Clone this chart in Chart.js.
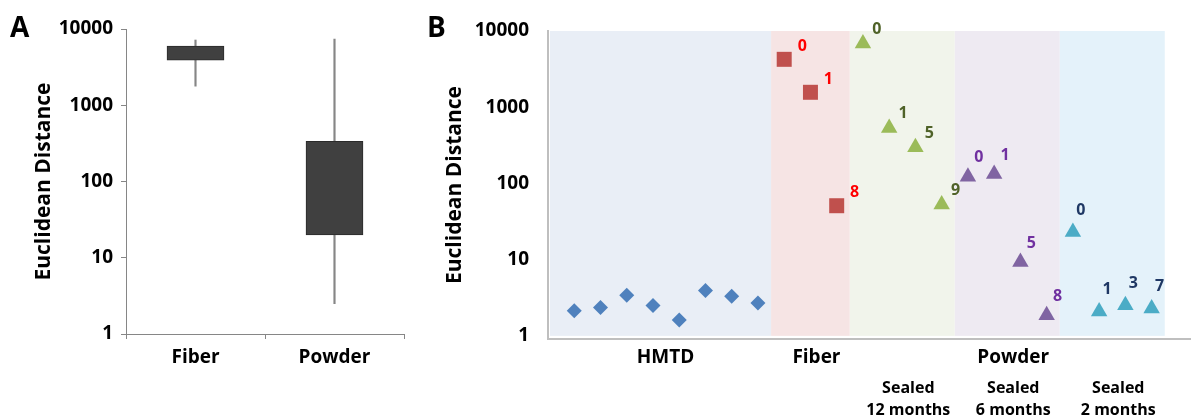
<!DOCTYPE html>
<html lang="en">
<head>
  <meta charset="UTF-8" />
  <title>Euclidean Distance</title>
  <script src="https://cdn.jsdelivr.net/npm/chart.js"></script>
  <style>
    * { margin: 0; padding: 0; box-sizing: border-box; }
    body { width: 1191px; height: 418px; background: #fff; position: relative; overflow: hidden;
           font-family: 'Open Sans', sans-serif; }
    canvas { position: absolute; top: 0; }
    #boxChart { left: 0; }
    #dotChart { left: 410px; }
    .tag { position: absolute; top: 12px; font-size: 28px; font-weight: bold; line-height: 1; color: #000; }
  </style>
</head>
<body>
  <canvas id="boxChart" width="410" height="418"></canvas>
  <canvas id="dotChart" width="781" height="418"></canvas>
  <div class="tag" style="left: 10px;">A</div>
  <div class="tag" style="left: 427px;">B</div>

  <script>
    // shared
    const yTicks = [1, 10, 100, 1000, 10000];
    const yTitle = 'Euclidean Distance';

    // panel A: box plot
    const boxCategories = ['Fiber', 'Powder'];
    const boxLow = [3910, 20];
    const boxHigh = [5970, 336];
    const whiskerLow = [1780, 2.5];
    const whiskerHigh = [7170, 7400];

    // panel B: scatter, x = sample slot
    const hmtdX = [1, 2, 3, 4, 5, 6, 7, 8];
    const hmtdY = [2.13, 2.35, 3.42, 2.5, 1.62, 3.93, 3.32, 2.71];
    const fiberX = [9, 10, 11];
    const fiberY = [4250, 1570, 51];
    const fiberLabels = ['0', '1', '8'];
    const sealed12X = [12, 13, 14, 15];
    const sealed12Y = [6840, 535, 298, 53];
    const sealed12Labels = ['0', '1', '5', '9'];
    const sealed6X = [16, 17, 18, 19];
    const sealed6Y = [122, 133, 9.3, 1.87];
    const sealed6Labels = ['0', '1', '5', '8'];
    const sealed2X = [20, 21, 22, 23];
    const sealed2Y = [23.1, 2.09, 2.53, 2.29];
    const sealed2Labels = ['0', '1', '3', '7'];

    const bandEdges = [0, 8.5, 11.5, 15.5, 19.5, 23.5];
    const groupNames = ['HMTD', 'Fiber', 'Powder'];
    const groupBands = [[0, 1], [1, 2], [2, 5]];
    const subNames = [['Sealed', '12 months'], ['Sealed', '6 months'], ['Sealed', '2 months']];
    const subBands = [[2, 3], [3, 4], [4, 5]];

    const bandColors = ['#E9EEF6', '#F6E4E4', '#F1F4EB', '#EEEAF2', '#E4F2FA'];

    Chart.defaults.font.family = "'Open Sans', sans-serif";
    Chart.defaults.font.weight = 'bold';
    Chart.defaults.color = '#000';

    const logAxis = (extra) => Object.assign({
      type: 'logarithmic',
      max: 10000,
      afterBuildTicks: s => { s.ticks = yTicks.map(v => ({ value: v })); },
      ticks: { font: { size: 19, weight: 'bold' }, color: '#000', callback: v => String(v) },
      title: { display: true, text: yTitle, font: { size: 21, weight: 'bold' }, color: '#000', padding: 0 }
    }, extra);

    // ---------- panel A ----------
    new Chart(document.getElementById('boxChart'), {
      type: 'bar',
      data: {
        labels: boxCategories,
        datasets: [
          {
            data: boxCategories.map((c, i) => [boxLow[i], boxHigh[i]]),
            backgroundColor: '#404040',
            borderColor: '#2a2a2a',
            borderWidth: 1,
            borderSkipped: false,
            barThickness: 57,
            grouped: false,
            order: 0
          },
          {
            data: boxCategories.map((c, i) => [whiskerLow[i], whiskerHigh[i]]),
            backgroundColor: '#868686',
            borderWidth: 0,
            barThickness: 1.5,
            grouped: false,
            order: 1
          }
        ]
      },
      options: {
        responsive: false,
        animation: false,
        layout: { padding: { left: 31, top: 29, right: 6, bottom: 0 } },
        plugins: { legend: { display: false }, tooltip: { enabled: false } },
        scales: {
          x: {
            offset: true,
            grid: { display: true, drawOnChartArea: false, tickLength: 5, color: '#868686', offset: true },
            border: { color: '#868686', width: 1 },
            ticks: { font: { size: 19, weight: 'bold' }, color: '#000', padding: 7 },
            afterFit: s => { s.height = 84; }
          },
          y: logAxis({
            min: 1,
            grid: { drawOnChartArea: false, tickLength: 5, color: '#868686' },
            border: { color: '#868686', width: 1 },
            ticks: { font: { size: 19, weight: 'bold' }, color: '#000', padding: 8, callback: v => String(v) },
            afterFit: s => { s.width = 95; }
          })
        }
      }
    });

    // ---------- panel B ----------
    const pts = (xs, ys) => xs.map((x, i) => ({ x: x, y: ys[i] }));

    const bandPlugin = {
      id: 'bands',
      beforeDraw(chart) {
        const { ctx, scales: { x, y } } = chart;
        ctx.save();
        const top = y.getPixelForValue(10000);
        const bottom = y.getPixelForValue(1);
        for (let i = 0; i < bandEdges.length - 1; i++) {
          let left = x.getPixelForValue(bandEdges[i]);
          if (i === 0) left += 2;
          const right = x.getPixelForValue(bandEdges[i + 1]);
          ctx.fillStyle = bandColors[i];
          ctx.fillRect(left, top, right - left, bottom - top);
        }
        ctx.restore();
      }
    };

    const pointLabelPlugin = {
      id: 'pointLabels',
      afterDatasetsDraw(chart) {
        const ctx = chart.ctx;
        ctx.save();
        ctx.font = "bold 16px 'Open Sans', sans-serif";
        ctx.textAlign = 'center';
        ctx.textBaseline = 'middle';
        chart.data.datasets.forEach((ds, i) => {
          if (!ds.pointLabels) return;
          ctx.fillStyle = ds.labelColor;
          chart.getDatasetMeta(i).data.forEach((pt, j) => {
            ctx.fillText(ds.pointLabels[j], pt.x + ds.labelOffset[0], pt.y + ds.labelOffset[1]);
          });
        });
        ctx.restore();
      }
    };

    const groupLabelPlugin = {
      id: 'groupLabels',
      afterDraw(chart) {
        const { ctx, scales: { x }, chartArea } = chart;
        const mid = span => (x.getPixelForValue(bandEdges[span[0]]) + x.getPixelForValue(bandEdges[span[1]])) / 2 + 6;
        ctx.save();
        ctx.fillStyle = '#000';
        ctx.textAlign = 'center';
        ctx.textBaseline = 'middle';
        ctx.font = "bold 19px 'Open Sans', sans-serif";
        groupNames.forEach((name, i) => ctx.fillText(name, mid(groupBands[i]), chartArea.bottom + 19));
        ctx.font = "bold 16px 'Open Sans', sans-serif";
        subNames.forEach((lines, i) => {
          ctx.fillText(lines[0], mid(subBands[i]), chartArea.bottom + 49);
          ctx.fillText(lines[1], mid(subBands[i]), chartArea.bottom + 71);
        });
        ctx.restore();
      }
    };

    new Chart(document.getElementById('dotChart'), {
      type: 'scatter',
      data: {
        datasets: [
          { data: pts(hmtdX, hmtdY), pointStyle: 'rectRot', pointRadius: 7.5,
            backgroundColor: '#4F81BD' },
          { data: pts(fiberX, fiberY), pointStyle: 'rect', pointRadius: 10.6,
            backgroundColor: '#C0504D', pointLabels: fiberLabels, labelColor: '#FF0000', labelOffset: [18, -13] },
          { data: pts(sealed12X, sealed12Y), pointStyle: 'triangle', pointRadius: 9.5,
            backgroundColor: '#9BBB59', pointLabels: sealed12Labels, labelColor: '#4F6228', labelOffset: [14, -14] },
          { data: pts(sealed6X, sealed6Y), pointStyle: 'triangle', pointRadius: 9.5,
            backgroundColor: '#8064A2', pointLabels: sealed6Labels, labelColor: '#7030A0', labelOffset: [11, -19] },
          { data: pts(sealed2X, sealed2Y), pointStyle: 'triangle', pointRadius: 9.5,
            backgroundColor: '#4BACC6', pointLabels: sealed2Labels, labelColor: '#1F3864', labelOffset: [8, -22] }
        ].map(ds => Object.assign({ pointBorderWidth: 0, pointHoverRadius: ds.pointRadius }, ds))
      },
      options: {
        responsive: false,
        animation: false,
        layout: { autoPadding: false, padding: { left: 32, top: 31, right: 0, bottom: 0 } },
        plugins: { legend: { display: false }, tooltip: { enabled: false } },
        scales: {
          x: {
            type: 'linear',
            min: 0,
            max: 24.5,
            grid: { display: false, drawTicks: false },
            border: { display: true, color: '#BFBFBF', width: 2 },
            ticks: { display: false },
            afterFit: s => { s.height = 79; }
          },
          y: logAxis({
            min: 0.91,
            grid: { display: false, drawTicks: false },
            border: { display: true, color: '#BFBFBF', width: 2 },
            ticks: { font: { size: 19, weight: 'bold' }, color: '#000', padding: 19, callback: v => String(v) },
            afterFit: s => { s.width = 106; }
          })
        }
      },
      plugins: [bandPlugin, pointLabelPlugin, groupLabelPlugin]
    });
  </script>
</body>
</html>
